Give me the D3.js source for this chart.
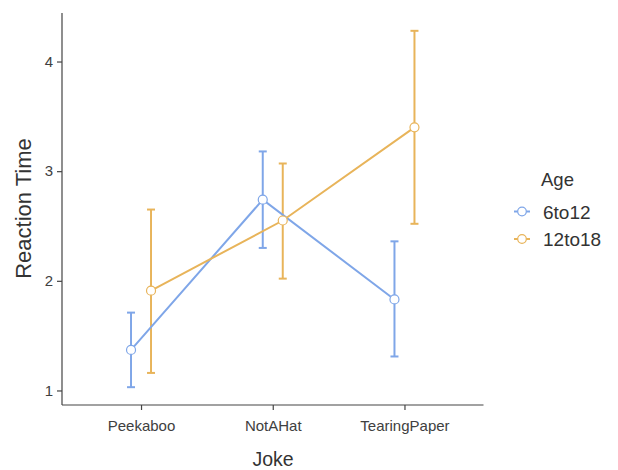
<!DOCTYPE html>
<html>
<head>
<meta charset="utf-8">
<script src="https://cdn.jsdelivr.net/npm/d3@7"></script>
<style>
  html, body { margin: 0; padding: 0; background: #fff; }
  text { font-family: "Liberation Sans", Arial, Helvetica, sans-serif; }
</style>
</head>
<body>
<svg id="chart" width="618" height="470"></svg>
<script>
// ---- data ----
const categories = ["Peekaboo", "NotAHat", "TearingPaper"];
const groups = ["6to12", "12to18"];
const colors = ["#7fa6e8", "#e8b45a"];
const mean6to12  = [1.37, 2.74, 1.83];
const lower6to12 = [1.03, 2.30, 1.31];
const upper6to12 = [1.71, 3.18, 2.36];
const mean12to18  = [1.91, 2.55, 3.40];
const lower12to18 = [1.16, 2.02, 2.52];
const upper12to18 = [2.65, 3.07, 4.28];
const yTicks = [1, 2, 3, 4];
const xTitle = "Joke";
const yTitle = "Reaction Time";
const legendTitle = "Age";

(function () {
const series = [
  { name: groups[0], color: colors[0], mean: mean6to12, lo: lower6to12, hi: upper6to12, dodge: -10 },
  { name: groups[1], color: colors[1], mean: mean12to18, lo: lower12to18, hi: upper12to18, dodge: 10 }
];

const svg = d3.select("#chart");
const mLeft = 62, mRight = 483.5, mTop = 13, mBottom = 405;

const allLo = d3.min(series, s => d3.min(s.lo));
const allHi = d3.max(series, s => d3.max(s.hi));
const pad = (allHi - allLo) * 0.05;
const y = d3.scaleLinear().domain([allLo - pad, allHi + pad]).range([mBottom, mTop]);
const x = d3.scalePoint().domain(categories).range([mLeft, mRight]).padding(0.6);

// axes
const yAxis = svg.append("g").attr("transform", `translate(${mLeft},0)`)
  .call(d3.axisLeft(y).tickValues(yTicks).tickFormat(d3.format("d")).tickSize(5).tickPadding(4).tickSizeOuter(0));
const xAxis = svg.append("g").attr("transform", `translate(0,${mBottom})`)
  .call(d3.axisBottom(x).tickSize(5).tickPadding(10).tickSizeOuter(0));
[yAxis, xAxis].forEach(g => {
  g.select(".domain").attr("stroke", "#444").attr("stroke-width", 1.2);
  g.selectAll(".tick line").attr("stroke", "#444").attr("stroke-width", 1.2);
  g.selectAll(".tick text").attr("fill", "#404040").style("font-size", "15px")
    .style("font-family", '"Liberation Sans", Arial, sans-serif');
});
yAxis.select(".domain").attr("d", `M0,${mTop}V${mBottom}`);
xAxis.select(".domain").attr("d", `M${mLeft},0H${mRight}`);

// titles
svg.append("text").attr("x", 273).attr("y", 466).attr("text-anchor", "middle")
  .style("font-size", "19.5px").attr("fill", "#333").text(xTitle);
svg.append("text").attr("transform", `translate(31,208.5) rotate(-90)`).attr("text-anchor", "middle")
  .style("font-size", "22px").attr("fill", "#333").text(yTitle);

// error bars
const cap = 4;
series.forEach(s => {
  const g = svg.append("g").attr("stroke", s.color).attr("stroke-width", 2).attr("fill", "none");
  categories.forEach((c, i) => {
    const cx = x(c) + s.dodge;
    g.append("line").attr("x1", cx).attr("x2", cx).attr("y1", y(s.lo[i])).attr("y2", y(s.hi[i]));
    g.append("line").attr("x1", cx - cap).attr("x2", cx + cap).attr("y1", y(s.lo[i])).attr("y2", y(s.lo[i]));
    g.append("line").attr("x1", cx - cap).attr("x2", cx + cap).attr("y1", y(s.hi[i])).attr("y2", y(s.hi[i]));
  });
});

// lines
const line = d3.line().x(d => d.x).y(d => d.y);
series.forEach(s => {
  const pts = categories.map((c, i) => ({ x: x(c) + s.dodge, y: y(s.mean[i]) }));
  svg.append("path").attr("d", line(pts)).attr("fill", "none")
    .attr("stroke", s.color).attr("stroke-width", 2);
});

// points
series.forEach(s => {
  svg.append("g").selectAll("circle").data(categories).join("circle")
    .attr("cx", (c) => x(c) + s.dodge)
    .attr("cy", (c, i) => y(s.mean[i]))
    .attr("r", 4.5).attr("fill", "#fff").attr("stroke", s.color).attr("stroke-width", 1.2);
});

// legend
svg.append("text").attr("x", 541).attr("y", 186).style("font-size", "18.5px").attr("fill", "#333").text(legendTitle);
series.forEach((s, i) => {
  const ly = 211.5 + i * 27.5;
  svg.append("line").attr("x1", 514).attr("x2", 530).attr("y1", ly).attr("y2", ly)
    .attr("stroke", s.color).attr("stroke-width", 2);
  svg.append("circle").attr("cx", 522).attr("cy", ly).attr("r", 4.3)
    .attr("fill", "#fff").attr("stroke", s.color).attr("stroke-width", 1.2);
  svg.append("text").attr("x", 543).attr("y", ly + 7).style("font-size", "19px").attr("fill", "#333").text(s.name);
});
})();
</script>
</body>
</html>
